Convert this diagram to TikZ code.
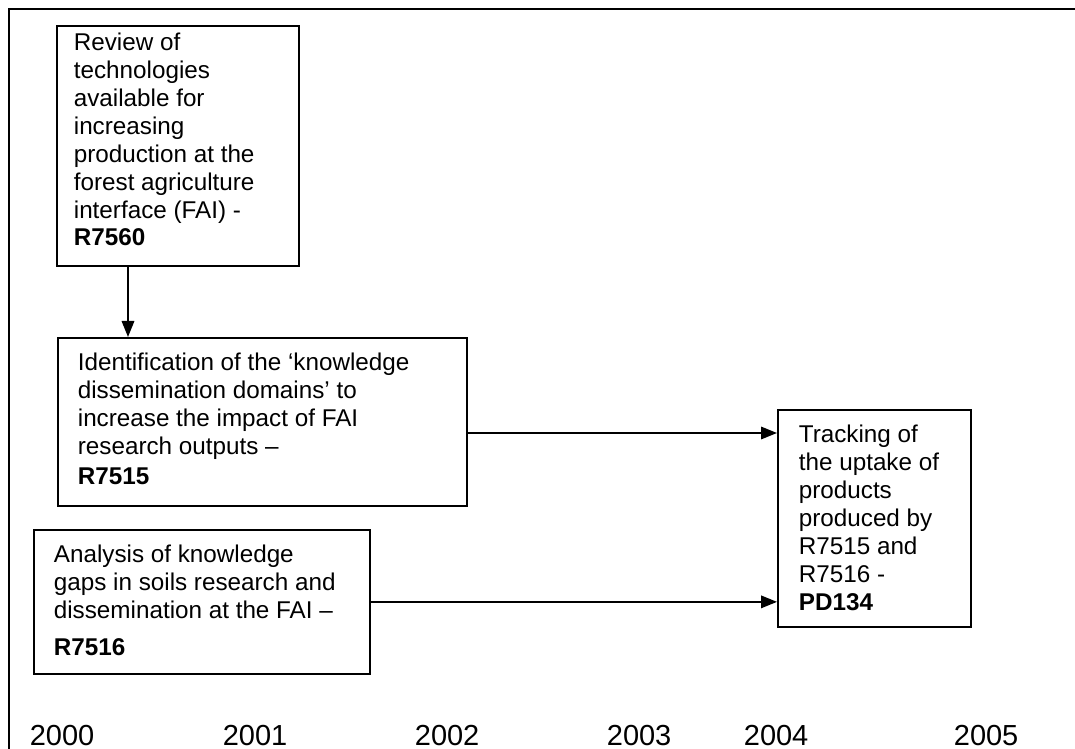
\documentclass[tikz,border=0pt]{standalone}
\usepackage{fontspec}
\setmainfont{Liberation Sans}
\usetikzlibrary{arrows.meta}
\tikzset{
  task/.style={draw, line width=1pt, anchor=north west, inner sep=0pt},
  tasktext/.style={anchor=north west, inner sep=0pt, align=left, font=\fontsize{13.8}{15.9}\selectfont},
  year/.style={anchor=base west, inner sep=0pt, font=\fontsize{16.5}{18}\selectfont},
}
\begin{document}
\begin{tikzpicture}[x=0.02cm, y=-0.02cm, >={Triangle[length=0.32cm, width=0.25cm]}, line width=1pt]
  \useasboundingbox (0,0) rectangle (1075,749);
  \draw (9,749) -- (9,9) -- (1075,9);

  \node[task, minimum width=4.84cm, minimum height=4.80cm] (review) at (56,25) {};
  \node[tasktext] (reviewtxt) at (73,32) {Review of\\ technologies\\ available for\\ increasing\\ production at the\\ forest agriculture\\ interface (FAI) -\\ \textbf{R7560}};

  \node[task, minimum width=8.18cm, minimum height=3.36cm] (ident) at (57,337) {};
  \node[tasktext] (identtxt) at (77,352) {Identification of the ‘knowledge\\ dissemination domains’ to\\ increase the impact of FAI\\ research outputs –\\[1.5pt] \textbf{R7515}};

  \node[task, minimum width=6.72cm, minimum height=2.88cm] (analysis) at (33,529) {};
  \node[tasktext] (analysistxt) at (53,544) {Analysis of knowledge\\ gaps in soils research and\\ dissemination at the FAI –\\[5pt] \textbf{R7516}};

  \node[task, minimum width=3.86cm, minimum height=4.34cm] (tracking) at (777,409) {};
  \node[tasktext] (trackingtxt) at (798,424) {Tracking of\\ the uptake of\\ products\\ produced by\\ R7515 and\\ R7516 -\\ \textbf{PD134}};

  \coordinate (col) at (128,0);
  \coordinate (row) at (0,433);
  \draw[->] (review.south -| col) -- (ident.north -| col);
  \draw[->] (ident.east |- row) -- (tracking.west |- row);
  \draw[->] (analysis.east) -- (tracking.west |- analysis.east);

  \foreach \yr/\xx in {2000/29, 2001/222, 2002/414, 2003/606, 2004/743, 2005/953}
    \node[year] (y\yr) at (\xx,745) {\yr};
\end{tikzpicture}
\end{document}
